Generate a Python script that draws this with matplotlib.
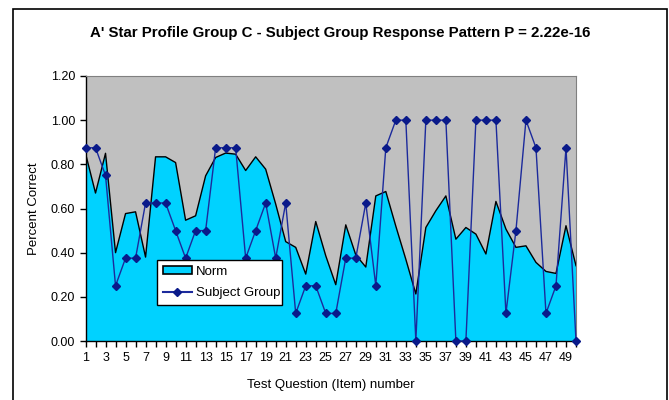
import numpy as np
import matplotlib
matplotlib.use("Agg")
import matplotlib.pyplot as plt
from matplotlib.patches import Rectangle, Patch
from matplotlib.lines import Line2D

plt.rcParams['font.family'] = ['Liberation Sans', 'DejaVu Sans']

# data
items = list(range(1, 51))
norm = [0.85, 0.67, 0.85, 0.40, 0.577, 0.585, 0.38, 0.834, 0.834, 0.808,
        0.547, 0.567, 0.748, 0.831, 0.851, 0.846, 0.772, 0.834, 0.778, 0.62,
        0.45, 0.424, 0.303, 0.541, 0.386, 0.255, 0.526, 0.39, 0.335, 0.657,
        0.677, 0.52, 0.37, 0.213, 0.514, 0.59, 0.657, 0.461, 0.514, 0.484,
        0.394, 0.632, 0.507, 0.424, 0.431, 0.356, 0.315, 0.306, 0.522, 0.341]
subject = [0.875, 0.875, 0.75, 0.25, 0.375, 0.375, 0.625, 0.625, 0.625, 0.5,
           0.375, 0.5, 0.5, 0.875, 0.875, 0.875, 0.375, 0.5, 0.625, 0.375,
           0.625, 0.125, 0.25, 0.25, 0.125, 0.125, 0.375, 0.375, 0.625, 0.25,
           0.875, 1.0, 1.0, 0.0, 1.0, 1.0, 1.0, 0.0, 0.0, 1.0,
           1.0, 1.0, 0.125, 0.5, 1.0, 0.875, 0.125, 0.25, 0.875, 0.0]
y_ticks = [0.0, 0.2, 0.4, 0.6, 0.8, 1.0, 1.2]

area_col = '#00d2ff'
line_col = '#1c2a9c'
mark_col = '#0a1a8a'

fig = plt.figure(figsize=(6.69, 4.0), dpi=100)
fig.patch.set_facecolor('white')

# outer chart border
fig.patches.append(Rectangle((13 / 669, -0.05), (667 - 13) / 669, 1.05 - 9.5 / 400,
                             transform=fig.transFigure, fill=False,
                             edgecolor='black', linewidth=1.2))

ax = fig.add_axes([85.5 / 669, 1 - 341 / 400, (576 - 85.5) / 669, (341 - 76) / 400])
ax.set_facecolor('#c0c0c0')

ax.fill_between(items, norm, 0, color=area_col, zorder=2, edgecolor='none')
ax.plot(items, norm, color='black', linewidth=1.0, zorder=3)
ax.plot(items, subject, color=line_col, linewidth=1.0, marker='D',
        markersize=4, markerfacecolor=mark_col, markeredgecolor=mark_col,
        zorder=4, clip_on=False)

ax.set_xlim(1, 50)
ax.set_ylim(0, 1.2)
ax.set_yticks(y_ticks)
ax.set_yticklabels([f"{v:.2f}" for v in y_ticks], fontsize=9)
ax.set_xticks(items)
ax.set_xticklabels([str(i) if i % 2 == 1 else '' for i in items], fontsize=9)
ax.tick_params(axis='both', direction='out', length=4, width=1, colors='black')
ax.tick_params(axis='x', pad=4)

for s in ['top', 'right']:
    ax.spines[s].set_color('#808080')
    ax.spines[s].set_linewidth(0.8)
for s in ['left', 'bottom']:
    ax.spines[s].set_color('black')
    ax.spines[s].set_linewidth(1.0)

ax.set_xlabel('Test Question (Item) number', fontsize=9.5, labelpad=11)
ax.set_ylabel('Percent Correct', fontsize=9.5, labelpad=8)

fig.text(340 / 669, 1 - 33 / 400,
         "A' Star Profile Group C - Subject Group Response Pattern P = 2.22e-16",
         ha='center', va='center', fontsize=10.8, fontweight='bold')

# legend built to look like the Excel key
handles = [Patch(facecolor=area_col, edgecolor='black', linewidth=1.2, label='Norm'),
           Line2D([0], [0], color=line_col, marker='D', markersize=4,
                  markerfacecolor=mark_col, markeredgecolor=mark_col,
                  label='Subject Group')]
leg = ax.legend(handles=handles, loc='lower left',
                bbox_to_anchor=((157 - 85.5) / (576 - 85.5), (341 - 305) / (341 - 76),
                                (282 - 157) / (576 - 85.5), (305 - 262) / (341 - 76)),
                mode='expand', fontsize=9.5, frameon=True, fancybox=False,
                framealpha=1, edgecolor='black', borderpad=0.45,
                handlelength=2.2, handleheight=0.5, handletextpad=0.3,
                labelspacing=0.7, borderaxespad=0)
leg.get_frame().set_linewidth(1.0)
leg.set_zorder(5)

fig.savefig('out.png', dpi=100)
